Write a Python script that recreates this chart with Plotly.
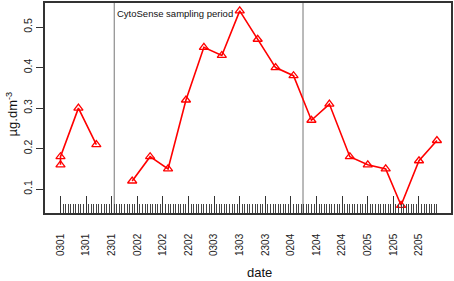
import datetime as dt
import plotly.graph_objects as go

# ---- data ----
sample_dates = ["2012-01-03", "2012-01-03", "2012-01-10", "2012-01-17", "2012-01-24",
                "2012-01-31", "2012-02-07", "2012-02-14", "2012-02-21", "2012-02-28",
                "2012-03-06", "2012-03-13", "2012-03-20", "2012-03-27", "2012-04-03",
                "2012-04-10", "2012-04-17", "2012-04-25", "2012-05-02", "2012-05-09",
                "2012-05-15", "2012-05-22", "2012-05-29"]
chl_values = [0.16, 0.18, 0.30, 0.21, None,
              0.12, 0.18, 0.15, 0.32, 0.45,
              0.43, 0.54, 0.47, 0.40, 0.38,
              0.27, 0.31, 0.18, 0.16, 0.15,
              0.06, 0.17, 0.22]
tick_labels = ["0301", "1301", "2301", "0202", "1202", "2202", "0303", "1303",
               "2303", "0204", "1204", "2204", "0205", "1205", "2205"]
y_ticks = [0.1, 0.2, 0.3, 0.4, 0.5]
period_start = "2012-01-24"
period_end = "2012-04-06 17:00"
period_label = "CytoSense sampling period"

# ---- axis helpers ----
start = dt.datetime(2012, 1, 3)
tick_vals = [(start + dt.timedelta(days=10 * i)).strftime("%Y-%m-%d") for i in range(len(tick_labels))]
last = dt.datetime(2012, 5, 29)
minor_vals = [(start + dt.timedelta(days=i)).strftime("%Y-%m-%d")
              for i in range((last - start).days + 1)]
x_lo = (start - dt.timedelta(days=6.05)).strftime("%Y-%m-%d %H:%M")
x_hi = (start + dt.timedelta(days=152.5)).strftime("%Y-%m-%d %H:%M")

FONT = "Liberation Sans, Arial, sans-serif"

fig = go.Figure()
fig.add_trace(go.Scatter(
    x=sample_dates, y=chl_values, mode="lines+markers",
    connectgaps=False,
    line=dict(color="#ff0000", width=1.6),
    marker=dict(symbol="triangle-up-open", size=8, color="#ff0000",
                line=dict(color="#ff0000", width=1.3)),
    showlegend=False, hoverinfo="skip",
))

for d in (period_start, period_end):
    fig.add_shape(type="line", xref="x", yref="paper", x0=d, x1=d, y0=0, y1=1,
                  line=dict(color="#8c8c8c", width=1.2), layer="below")

fig.add_annotation(x=period_start, y=0.952, xref="x", yref="paper",
                   text=period_label, showarrow=False, xanchor="left", yanchor="middle",
                   xshift=1, font=dict(family=FONT, size=9.5, color="#111"))

fig.add_annotation(x=-0.081, y=0.47, xref="paper", yref="paper",
                   text="µg.dm<sup>-3</sup>", textangle=-90, showarrow=False,
                   xanchor="center", yanchor="middle",
                   font=dict(family=FONT, size=13, color="#111"))
fig.add_annotation(x=0.529, y=-0.283, xref="paper", yref="paper",
                   text="date", showarrow=False, xanchor="center", yanchor="middle",
                   font=dict(family=FONT, size=13, color="#111"))

fig.update_layout(
    width=454, height=281,
    margin=dict(l=45, r=3, t=3, b=68, autoexpand=False),
    paper_bgcolor="white", plot_bgcolor="white",
    font=dict(family=FONT, size=10, color="#222"),
    xaxis=dict(
        type="date", range=[x_lo, x_hi], automargin=False,
        tickmode="array", tickvals=tick_vals, ticktext=tick_labels,
        tickangle=-90, ticks="inside", ticklen=17, tickwidth=1, tickcolor="#333",
        ticklabelstandoff=15,
        minor=dict(tickmode="array", tickvals=minor_vals, ticks="inside",
                   ticklen=9, tickwidth=1, tickcolor="#444", showgrid=False),
        showgrid=False, zeroline=False,
        showline=True, linecolor="#333", linewidth=1.6, mirror=True,
        tickfont=dict(family=FONT, size=10, color="#222"),
    ),
    yaxis=dict(
        range=[0.041, 0.5595], automargin=False,
        tickmode="array", tickvals=y_ticks, ticktext=[f"{v:.1f}" for v in y_ticks],
        tickangle=-90, ticks="outside", ticklen=7, tickwidth=1, tickcolor="#333",
        showgrid=False, zeroline=False,
        showline=True, linecolor="#333", linewidth=1.6, mirror=True,
        tickfont=dict(family=FONT, size=10.5, color="#222"),
    ),
)

fig.write_html("out.html",
               config={"displayModeBar": False},
               post_script="document.body.style.margin='0';document.body.style.overflow='hidden';")
